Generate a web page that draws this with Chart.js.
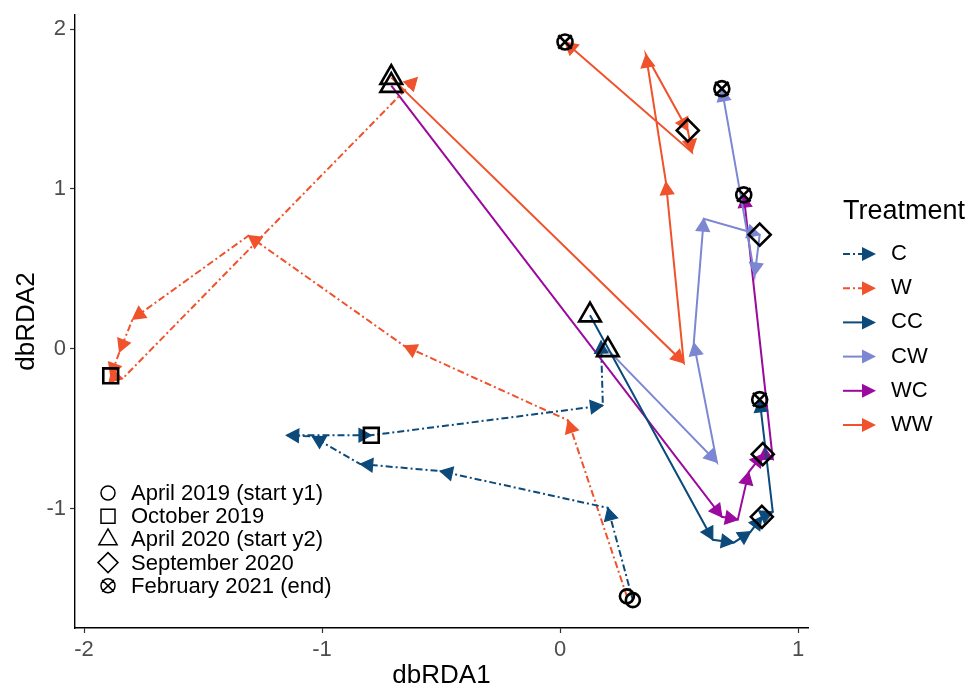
<!DOCTYPE html>
<html><head><meta charset="utf-8">
<script src="https://cdn.jsdelivr.net/npm/chart.js@4/dist/chart.umd.min.js"></script>
<style>html,body{margin:0;padding:0;background:#fff;} canvas{display:block;}</style>
</head><body>
<canvas id="c" width="971" height="689"></canvas>
<script>
// ---- data ----
const treatments = ["C", "W", "CC", "CW", "WC", "WW"];
const timepointLabels = ["April 2019 (start y1)", "October 2019", "April 2020 (start y2)", "September 2020", "February 2021 (end)"];
const xTickValues = [-2, -1, 0, 1];
const yTickValues = [-1, 0, 1, 2];

// year 1 (April 2019 ... April 2020)
const cX  = [0.306, 0.201, -0.504, -0.839, -1.041, -1.150, -0.793, 0.180, 0.172];
const cY  = [-1.571, -0.994, -0.764, -0.720, -0.547, -0.540, -0.540, -0.354, 0.050];
const wX  = [0.281, 0.034, -0.655, -1.309, -1.796, -1.851, -1.888, -1.838, -0.600];
const wY  = [-1.547, -0.447, 0.019, 0.708, 0.186, -0.019, -0.168, -0.186, 1.696];
// year 2 (April 2020 ... February 2021)
const ccX = [0.126, 0.642, 0.730, 0.801, 0.848, 0.894, 0.839];
const ccY = [0.211, -1.193, -1.211, -1.143, -1.050, -1.019, -0.317];
const cwX = [0.201, 0.659, 0.562, 0.604, 0.839, 0.818, 0.680];
const cwY = [-0.006, -0.708, 0.037, 0.814, 0.714, 0.460, 1.627];
const wcX = [-0.709, 0.680, 0.747, 0.793, 0.852, 0.894, 0.772];
const wcY = [1.646, -1.050, -1.068, -0.770, -0.658, -0.689, 0.963];
const wwX = [-0.709, 0.520, 0.445, 0.361, 0.537, 0.554, 0.021];
const wwY = [1.696, -0.087, 1.043, 1.839, 1.366, 1.230, 1.919];

// index of marked time points in each path
const y1Start = 0, y1Oct = 6, y2Start = 0, y2Sep = 4, y2End = 6;

// ---- styling ----
const FONT = "'Liberation Sans', Arial, Helvetica, sans-serif";
const colC = '#0c4a7b', colW = '#f0522b', colCW = '#7c87d2', colWC = '#9b0a9e';
const DASH = [7, 3, 2, 3];

const series = [
  {name: treatments[0], xs: cX,  ys: cY,  color: colC,  dash: DASH},
  {name: treatments[1], xs: wX,  ys: wY,  color: colW,  dash: DASH},
  {name: treatments[2], xs: ccX, ys: ccY, color: colC,  dash: []},
  {name: treatments[3], xs: cwX, ys: cwY, color: colCW, dash: []},
  {name: treatments[4], xs: wcX, ys: wcY, color: colWC, dash: []},
  {name: treatments[5], xs: wwX, ys: wwY, color: colW,  dash: []},
];
const pts = (xs, ys) => xs.map((x, i) => ({x: x, y: ys[i]}));
const at = (xs, ys, i) => ({x: xs[i], y: ys[i]});

const pathDatasets = series.map((s, k) => ({
  label: s.name, type: 'scatter', showLine: true, arrows: true,
  data: pts(s.xs, s.ys), borderColor: s.color, backgroundColor: s.color,
  borderWidth: 2, borderDash: s.dash, pointRadius: 0, tension: 0, order: 10 + k
}));

const y2 = [[ccX, ccY], [cwX, cwY], [wcX, wcY], [wwX, wwY]];
function marker(label, data, style, r, order) {
  return {label: label, type: 'scatter', data: data, pointStyle: style, pointRadius: r,
    pointBorderColor: '#000', pointBackgroundColor: 'rgba(0,0,0,0)', pointBorderWidth: 2.6,
    showLine: false, order: order, marker: true};
}
const markerDatasets = [
  marker(timepointLabels[0], [at(cX, cY, y1Start), at(wX, wY, y1Start)], 'circle', 7, 1),
  marker(timepointLabels[1], [at(cX, cY, y1Oct), at(wX, wY, y1Oct)], 'rect', 10.5, 1),
  marker(timepointLabels[2], y2.map(a => at(a[0], a[1], y2Start)), 'triangle', 12.5, 1),
  marker(timepointLabels[3], y2.map(a => at(a[0], a[1], y2Sep)), 'rectRot', 11, 1),
  marker(timepointLabels[4], y2.map(a => at(a[0], a[1], y2End)), 'circle', 7.5, 1),
  marker(timepointLabels[4] + ' x', y2.map(a => at(a[0], a[1], y2End)), 'crossRot', 9.5, 0),
];

// arrowheads at the end of every segment, drawn right after each path
const arrowPlugin = {
  id: 'arrows',
  afterDatasetDraw(chart, args) {
    const ds = chart.data.datasets[args.index];
    if (!ds.arrows) return;
    const ctx = chart.ctx, p = args.meta.data;
    ctx.save();
    ctx.fillStyle = ds.borderColor; ctx.strokeStyle = ds.borderColor;
    ctx.lineWidth = 1.2; ctx.setLineDash([]); ctx.lineJoin = 'miter';
    for (let i = 1; i < p.length; i++) {
      const a = p[i - 1], b = p[i];
      const dx = b.x - a.x, dy = b.y - a.y;
      if (Math.hypot(dx, dy) < 0.5) continue;
      const ang = Math.atan2(dy, dx), L = 14, h = 0.5;
      ctx.beginPath();
      ctx.moveTo(b.x, b.y);
      ctx.lineTo(b.x - L * Math.cos(ang - h), b.y - L * Math.sin(ang - h));
      ctx.lineTo(b.x - L * Math.cos(ang + h), b.y - L * Math.sin(ang + h));
      ctx.closePath(); ctx.fill(); ctx.stroke();
    }
    ctx.restore();
  }
};

function drawShape(ctx, kind, x, y) {
  ctx.beginPath();
  if (kind === 0) { ctx.arc(x, y, 7, 0, Math.PI * 2); }
  else if (kind === 1) { ctx.rect(x - 7, y - 7, 14, 14); }
  else if (kind === 2) { const r = 10.5; ctx.moveTo(x, y - r); ctx.lineTo(x + r * 0.866, y + r / 2); ctx.lineTo(x - r * 0.866, y + r / 2); ctx.closePath(); }
  else if (kind === 3) { const r = 10; ctx.moveTo(x, y - r); ctx.lineTo(x + r, y); ctx.lineTo(x, y + r); ctx.lineTo(x - r, y); ctx.closePath(); }
  else { ctx.arc(x, y, 7, 0, Math.PI * 2); const d = 7.2 * Math.SQRT1_2 * 1.15;
    ctx.moveTo(x - d, y - d); ctx.lineTo(x + d, y + d); ctx.moveTo(x + d, y - d); ctx.lineTo(x - d, y + d); }
  ctx.stroke();
}

const legendPlugin = {
  id: 'legends',
  afterDraw(chart) {
    const ctx = chart.ctx;
    ctx.save();
    ctx.textAlign = 'left'; ctx.textBaseline = 'middle';
    // Treatment legend
    ctx.fillStyle = '#000'; ctx.font = '27px ' + FONT;
    ctx.fillText('Treatment', 843, 212);
    series.forEach((s, i) => {
      const y = 254 + i * 34.2;
      ctx.strokeStyle = s.color; ctx.fillStyle = s.color; ctx.lineWidth = 2;
      ctx.setLineDash(s.dash);
      ctx.beginPath(); ctx.moveTo(843, y); ctx.lineTo(872, y); ctx.stroke();
      ctx.setLineDash([]);
      ctx.beginPath(); ctx.moveTo(876, y); ctx.lineTo(862, y - 7); ctx.lineTo(862, y + 7); ctx.closePath(); ctx.fill();
      ctx.fillStyle = '#000'; ctx.font = '22px ' + FONT;
      ctx.fillText(s.name, 891, y);
    });
    // time point legend
    ctx.strokeStyle = '#000'; ctx.lineWidth = 1.5;
    timepointLabels.forEach((t, i) => {
      const y = 493 + i * 23.2;
      drawShape(ctx, i, 108, y);
      ctx.fillStyle = '#000'; ctx.font = '22px ' + FONT;
      ctx.fillText(t, 131, y + 1);
    });
    ctx.restore();
  }
};

new Chart(document.getElementById('c'), {
  type: 'scatter',
  data: {datasets: markerDatasets.concat(pathDatasets)},
  plugins: [arrowPlugin, legendPlugin],
  options: {
    responsive: false, animation: false, events: [],
    layout: {padding: {left: 0, top: 7, right: 163, bottom: 0}},
    plugins: {legend: {display: false}, tooltip: {enabled: false}},
    scales: {
      x: {
        type: 'linear', min: -2.038, max: 1.042,
        afterBuildTicks: s => { s.ticks = xTickValues.map(v => ({value: v})); },
        afterFit: s => { s.height = 61; s.paddingLeft = 0; s.paddingRight = 0; },
        grid: {drawOnChartArea: false, drawTicks: true, tickLength: 5, tickColor: '#333', tickWidth: 1.2},
        border: {display: true, color: '#000', width: 1.4},
        ticks: {font: {family: FONT, size: 22}, color: '#4d4d4d', padding: 4, maxRotation: 0,
                callback: v => String(v)},
        title: {display: true, text: 'dbRDA1', color: '#000', font: {family: FONT, size: 26, lineHeight: 1},
                padding: {top: 0, bottom: 0}}
      },
      y: {
        type: 'linear', min: -1.745, max: 2.087,
        afterBuildTicks: s => { s.ticks = yTickValues.map(v => ({value: v})); },
        afterFit: s => { s.width = 75; s.paddingTop = 0; s.paddingBottom = 0; },
        grid: {drawOnChartArea: false, drawTicks: true, tickLength: 5, tickColor: '#333', tickWidth: 1.2},
        border: {display: true, color: '#000', width: 1.4},
        ticks: {font: {family: FONT, size: 22}, color: '#4d4d4d', padding: 4, callback: v => String(v)},
        title: {display: true, text: 'dbRDA2', color: '#000', font: {family: FONT, size: 26, lineHeight: 1},
                padding: {top: 14, bottom: 0}}
      }
    }
  }
});
</script>
</body></html>
